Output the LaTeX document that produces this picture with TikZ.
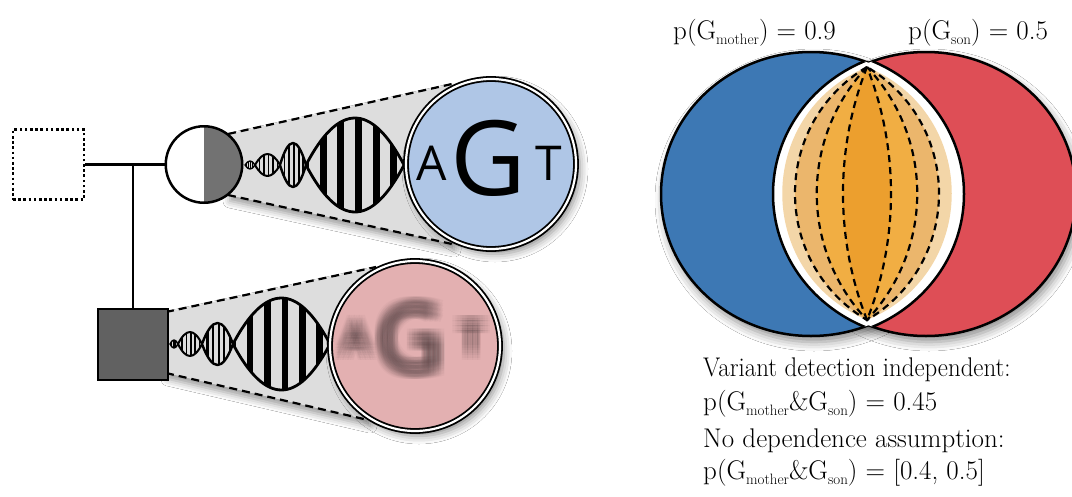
\documentclass[tikz,border=0pt]{standalone}
\usepackage{fontspec}
\usetikzlibrary{shadows.blur}
\newfontfamily\agtfont{Open Sans}

\definecolor{conegray}{HTML}{DDDDDD}
\definecolor{halfgray}{HTML}{727272}
\definecolor{songray}{HTML}{616161}
\definecolor{lightblue}{HTML}{AFC6E6}
\definecolor{lightpink}{HTML}{E3B0B1}
\definecolor{vennblue}{HTML}{3D78B4}
\definecolor{vennred}{HTML}{DE4E56}
\definecolor{orangeA}{HTML}{F3D6A8}
\definecolor{orangeB}{HTML}{EBB66C}
\definecolor{orangeC}{HTML}{F1AE43}
\definecolor{orangeD}{HTML}{EC9F2E}
\definecolor{blurink}{HTML}{4E3E40}

% one lobe of a DNA helix: x0, x1, centre y, amplitude, strand width
\newcommand\helixlobe[5]{%
  \pgfmathsetmacro\hxw{#2-#1}%
  \pgfmathsetmacro\hxa{#1+\hxw/3}%
  \pgfmathsetmacro\hxb{#2-\hxw/3}%
  \pgfmathsetmacro\hxu{#3-4/3*#4}%
  \pgfmathsetmacro\hxd{#3+4/3*#4}%
  \begin{scope}
    \clip (#1,#3) .. controls (\hxa,\hxu) and (\hxb,\hxu) .. (#2,#3)
          .. controls (\hxb,\hxd) and (\hxa,\hxd) .. cycle;
    \foreach \k in {-1,...,4}{
      \fill ({#1+\hxw*(0.14+0.18*\k)},{#3-#4-3}) rectangle ++({0.07*\hxw},{2*#4+6});
    }
  \end{scope}
  \draw[line width=#5, line join=round] (#1,#3) .. controls (\hxa,\hxu) and (\hxb,\hxu) .. (#2,#3)
        .. controls (\hxb,\hxd) and (\hxa,\hxd) .. cycle;
}

% lens between the two tips of the overlap: horizontal and vertical control offsets, options
\newcommand\lens[3]{%
  \path[#3] (867,67) .. controls ({867-#1},{67+#2}) and ({867-#1},{320-#2}) .. (867,320)
        .. controls ({867+#1},{320-#2}) and ({867+#1},{67+#2}) .. cycle;
}

% a glyph smeared out by stacking faint shifted copies
\newcommand\blurglyph[1]{%
  \foreach \bdx in {-7.5,-5,...,7.5}{%
    \foreach \bdy in {-7.5,-5,...,7.5}{%
      \makebox[0pt]{\hspace*{\bdx pt}\hspace*{\bdx pt}\raisebox{\bdy pt}{#1}}%
    }%
  }%
}

\newcommand\subtxt[1]{\raisebox{-5pt}{\fontsize{15}{15}\selectfont #1}}

\begin{document}
\begin{tikzpicture}[x=1pt,y=-1pt,
  pedline/.style={line width=2.5pt},
  conefill/.style={fill=conegray, blur shadow={shadow xshift=2pt, shadow yshift=-6pt, shadow blur radius=7pt, shadow opacity=40}},
  coneedge/.style={line width=2.2pt, dash pattern=on 8pt off 5pt},
  magnifier/.style={circle, draw=black, line width=1.8pt, double=white, double distance=2.2pt,
    minimum size=170pt, inner sep=0pt,
    blur shadow={shadow xshift=4pt, shadow yshift=-5pt, shadow blur radius=8pt, shadow opacity=45}},
  letter/.style={anchor=base, inner sep=0pt},
  blurtxt/.style={anchor=base, inner sep=0pt, text=blurink, text opacity=0.04},
  vennline/.style={line width=2.5pt},
  vennshadow/.style={blur shadow={shadow xshift=3pt, shadow yshift=-6pt, shadow blur radius=9pt, shadow opacity=45}},
  lensdash/.style={draw=black, line width=2.2pt, dash pattern=on 7pt off 5pt},
  lbl/.style={anchor=base west, inner sep=0pt, font=\fontsize{27}{27}\selectfont}
]
\fill[white] (0,0) rectangle (1072,496);
\useasboundingbox (0,0) rectangle (1072,496);

% ---------------- magnification cones ----------------
\fill[conefill] (228,134) -- (452,84) -- (452,244) -- (228,195) -- cycle;
\draw[coneedge] (228,134) -- (452,84);
\draw[coneedge] (228,195) -- (452,244);

\fill[conefill] (166,312) -- (376,267) -- (368,420) -- (166,373) -- cycle;
\draw[coneedge] (166,312) -- (376,267);
\draw[coneedge] (166,373) -- (368,420);

% ---------------- DNA helices ----------------
\helixlobe{245}{255}{165}{4}{1.4pt}
\helixlobe{255}{280}{165}{11}{2pt}
\helixlobe{280}{306}{165}{22}{2.4pt}
\helixlobe{306}{404}{165}{47}{2.8pt}

\helixlobe{170}{178}{344}{4}{1.4pt}
\helixlobe{178}{202}{344}{12}{2pt}
\helixlobe{202}{233}{344}{21}{2.4pt}
\helixlobe{233}{330}{344}{46}{2.8pt}

% ---------------- pedigree ----------------
\node[draw, line width=2.5pt, dash pattern=on 2.6pt off 2.6pt, minimum width=71pt, minimum height=70pt,
      inner sep=0pt] (father) at (48.5,164.5) {};
\node[circle, draw, line width=2.5pt, minimum size=76.5pt, inner sep=0pt, fill=white,
      path picture={\fill[halfgray] (path picture bounding box.north) rectangle (path picture bounding box.south east);}]
      (mother) at (204,164.5) {};
\node[draw, fill=songray, line width=2.5pt, minimum width=70pt, minimum height=71pt, inner sep=0pt]
      (son) at (133,344.5) {};
\coordinate (junction) at (133,164.5);
\draw[pedline] (father.east) -- (mother.west);
\draw[pedline] (junction) -- (son.north);

% ---------------- magnified reads ----------------
\node[magnifier, fill=lightblue] (sharp) at (491,164) {};
\node[letter, font=\agtfont\fontsize{48}{48}\selectfont] (sharpA) at (432,180) {A};
\node[letter, font=\agtfont\fontsize{104}{104}\selectfont] (sharpG) at (488,195) {G};
\node[letter, font=\agtfont\fontsize{48}{48}\selectfont] (sharpT) at (549,180) {T};

\node[magnifier, fill=lightpink] (blurred) at (415,346) {};
\node[blurtxt, font=\agtfont\fontsize{42}{42}\selectfont] (blurA) at (356,353) {\blurglyph{A}};
\node[blurtxt, font=\agtfont\fontsize{92}{92}\selectfont] (blurG) at (410,371) {\blurglyph{G}};
\node[blurtxt, font=\agtfont\fontsize{42}{42}\selectfont] (blurT) at (472,353) {\blurglyph{T}};

% ---------------- Venn diagram ----------------
\path[vennshadow] (811,194) ellipse [x radius=150pt, y radius=142pt];
\path[vennshadow] (926,194) ellipse [x radius=150pt, y radius=142pt];
\filldraw[fill=vennblue, vennline] (811,194) ellipse [x radius=150pt, y radius=142pt];
\filldraw[fill=vennred, vennline] (926,194) ellipse [x radius=150pt, y radius=142pt];
\begin{scope}
  \clip (811,194) ellipse [x radius=150pt, y radius=142pt];
  \fill[white] (926,194) ellipse [x radius=153pt, y radius=145pt];
\end{scope}
\begin{scope}
  \clip (926,194) ellipse [x radius=150pt, y radius=142pt];
  \fill[white] (811,194) ellipse [x radius=153pt, y radius=145pt];
\end{scope}
\begin{scope}
  \clip (811,194) ellipse [x radius=150pt, y radius=142pt];
  \draw[vennline] (926,194) ellipse [x radius=153pt, y radius=145pt];
\end{scope}
\begin{scope}
  \clip (926,194) ellipse [x radius=150pt, y radius=142pt];
  \draw[vennline] (811,194) ellipse [x radius=153pt, y radius=145pt];
\end{scope}

% joint-probability bands in the overlap
\lens{113}{47}{fill=orangeA}
\lens{96}{57}{fill=orangeB}
\lens{67}{71}{fill=orangeC}
\lens{32}{81}{fill=orangeD}
\lens{96}{57}{lensdash}
\lens{67}{71}{lensdash}
\lens{32}{81}{lensdash}

% ---------------- labels ----------------
\node[lbl] (pmother) at (673,39) {p(G\subtxt{mother}) = 0.9};
\node[lbl] (pson) at (908,39) {p(G\subtxt{son}) = 0.5};
\node[lbl] (indeptitle) at (703,376) {\scalebox{0.92}[1]{Variant detection independent:}};
\node[lbl] (indepvalue) at (703,410) {p(G\subtxt{mother}\&G\subtxt{son}) = 0.45};
\node[lbl] (nodeptitle) at (703,447) {No dependence assumption:};
\node[lbl] (nodepvalue) at (703,479) {p(G\subtxt{mother}\&G\subtxt{son}) = [0.4, 0.5]};
\end{tikzpicture}
\end{document}
